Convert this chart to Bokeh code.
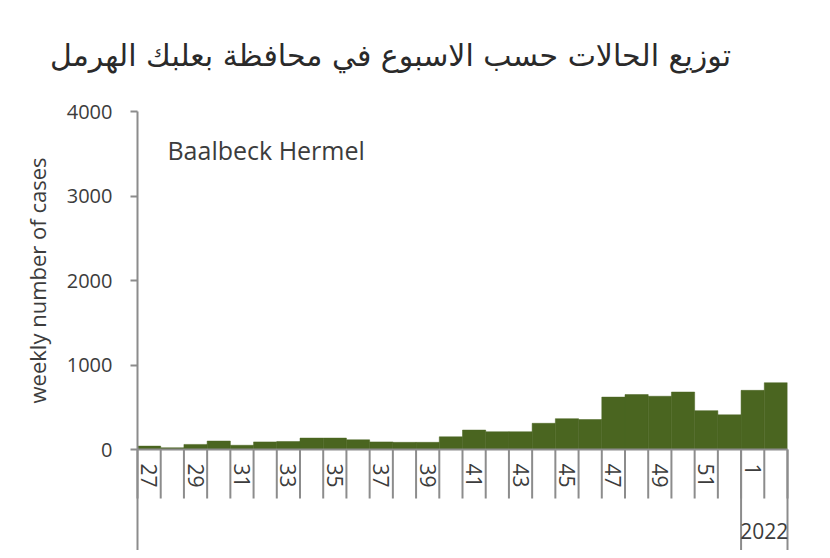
import math
from bokeh.plotting import figure
from bokeh.models import Range1d, FixedTicker, ColumnDataSource
from bokeh.core.properties import value
from bokeh.embed import file_html
from bokeh.resources import INLINE

# ---- data ----
weeks = [27, 28, 29, 30, 31, 32, 33, 34, 35, 36, 37, 38, 39, 40,
         41, 42, 43, 44, 45, 46, 47, 48, 49, 50, 51, 52, 1, 2]
years = ["2021"] * 26 + ["2022"] * 2
cases = [40, 20, 60, 100, 50, 90, 95, 135, 135, 115, 90, 85, 85, 150,
         230, 210, 210, 310, 365, 355, 620, 650, 630, 680, 460, 410, 700, 790]
y_ticks = [0, 1000, 2000, 3000, 4000]
title_text = "توزيع الحالات حسب الاسبوع في محافظة بعلبك الهرمل"
region_text = "Baalbeck Hermel"
y_label = "weekly number of cases"

idx = list(range(len(weeks)))
src = ColumnDataSource(dict(x=idx, top=cases, week=[str(w) for w in weeks]))

TEXT = "#3c3c3c"
AXIS = "#8c8c8c"
BAR = "#4a6520"

p = figure(width=814, height=550, output_backend="svg", toolbar_location=None,
           x_range=Range1d(-0.5, len(weeks) - 0.5), y_range=Range1d(0, 4000),
           min_border_left=137, min_border_right=27, min_border_top=111,
           min_border_bottom=101)
p.outline_line_color = None
p.grid.grid_line_color = None
p.background_fill_color = "white"
p.border_fill_color = "white"

p.vbar(x="x", top="top", width=1.0, source=src, fill_color=BAR, line_color=BAR,
       line_width=0.5)

# y axis
ya = p.yaxis[0]
ya.ticker = FixedTicker(ticks=y_ticks)
ya.axis_line_color = AXIS
ya.axis_line_width = 2
ya.major_tick_line_color = AXIS
ya.major_tick_line_width = 2
ya.major_tick_out = 7
ya.major_tick_in = 0
ya.minor_tick_line_color = None
ya.major_label_standoff = 18
ya.major_label_text_font = "Open Sans"
ya.major_label_text_font_size = "20px"
ya.major_label_text_color = TEXT
ya.axis_label = y_label
ya.axis_label_text_font = "Open Sans"
ya.axis_label_text_font_size = "22px"
ya.axis_label_text_font_style = "normal"
ya.axis_label_text_color = TEXT
ya.axis_label_standoff = 12

# x axis
xa = p.xaxis[0]
labeled = idx[::2]
xa.ticker = FixedTicker(ticks=labeled)
xa.major_label_overrides = {i: str(weeks[i]) for i in labeled}
xa.major_label_orientation = -math.pi / 2
xa.axis_line_color = AXIS
xa.axis_line_width = 2
xa.major_tick_line_color = None
xa.major_tick_out = 0
xa.major_tick_in = 0
xa.minor_tick_line_color = None
xa.minor_tick_out = 0
xa.minor_tick_in = 0
xa.major_label_standoff = 14
xa.major_label_text_font = "Open Sans"
xa.major_label_text_font_size = "21px"
xa.major_label_text_color = TEXT

# category separators (short) and year group separators (long)
sep_len = -580
cat_bounds = [i - 0.5 for i in range(len(weeks) + 1)]
p.segment(x0=cat_bounds, y0=[0] * len(cat_bounds), x1=cat_bounds,
          y1=[sep_len] * len(cat_bounds), line_color=AXIS, line_width=2,
          level="overlay")

ymin = -1300
bounds = [-0.5]
for i in range(1, len(years)):
    if years[i] != years[i - 1]:
        bounds.append(i - 0.5)
bounds.append(len(years) - 0.5)
p.segment(x0=bounds, y0=[0] * len(bounds), x1=bounds, y1=[ymin] * len(bounds),
          line_color=AXIS, line_width=2, level="overlay")

g2022 = [i for i, yv in enumerate(years) if yv == "2022"]
p.text(x=[sum(g2022) / len(g2022)], y=[-970], text=["2022"],
       text_align="center", text_baseline="middle",
       text_font=value("Open Sans"), text_font_size="21px", text_color=TEXT,
       level="overlay")

# region label
p.text(x=[0.79], y=[3550], text=[region_text], text_align="left",
       text_baseline="middle", text_font=value("Open Sans"),
       text_font_size="25px", text_color=TEXT, level="overlay")

# title (Arabic)
p.text(x=[10.4], y=[4660], text=[title_text], text_align="center",
       text_baseline="middle", text_font=value("DejaVu Sans"),
       text_font_size="30px", text_color="#2a2a2a", level="overlay")

open("out.html", "w").write(file_html(p, INLINE))
